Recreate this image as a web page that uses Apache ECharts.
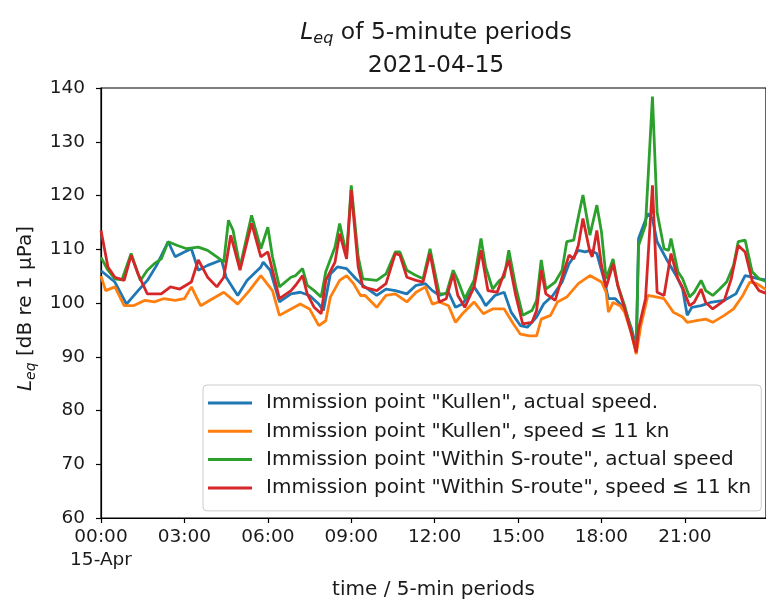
<!DOCTYPE html>
<html>
<head>
<meta charset="utf-8">
<script src="https://cdn.jsdelivr.net/npm/echarts@6/dist/echarts.min.js"></script>
<style>
html,body{margin:0;padding:0;background:#fff;}
#chart{width:766px;height:605px;}
</style>
</head>
<body>
<div id="chart"></div>
<script>
// time in minutes after 00:00 on 2021-04-15, value in dB re 1 µPa
const seriesNames = [
  'Immission point "Kullen", actual speed.',
  'Immission point "Kullen", speed \u2264 11 kn',
  'Immission point "Within S-route", actual speed',
  'Immission point "Within S-route", speed \u2264 11 kn'
];
const kullenActual = [[0,106.0],[30,103.9],[55,99.8],[80,102.3],[100,104.2],[120,107.0],[145,111.4],[160,108.6],[180,109.5],[195,110.1],[210,106.1],[230,107.0],[260,108.0],[270,104.8],[295,101.4],[315,104.2],[345,106.7],[350,107.6],[365,106.1],[385,100.2],[410,101.7],[430,102.0],[450,101.4],[470,99.8],[480,98.6],[495,105.4],[510,106.7],[530,106.4],[550,104.5],[565,103.3],[595,101.4],[615,102.6],[635,102.3],[660,101.7],[680,103.3],[700,103.6],[715,102.3],[730,101.4],[750,102.0],[765,99.2],[780,99.8],[805,103.0],[820,101.1],[830,99.5],[850,101.4],[870,102.0],[885,98.3],[905,95.8],[920,95.5],[940,97.4],[955,99.8],[975,101.4],[995,103.9],[1010,107.3],[1030,109.8],[1045,109.5],[1055,109.8],[1070,109.2],[1085,104.5],[1095,100.8],[1110,100.8],[1130,98.9],[1145,95.2],[1155,91.7],[1160,112.0],[1180,116.6],[1190,115.7],[1200,111.4],[1220,108.2],[1245,104.5],[1255,102.6],[1265,97.7],[1275,99.2],[1295,99.5],[1315,100.1],[1345,100.5],[1370,101.7],[1390,105.1],[1405,104.8],[1420,104.5],[1435,104.3]];
const kullenSlow = [[0,105.0],[10,102.3],[30,103.0],[50,99.5],[70,99.5],[95,100.5],[115,100.2],[135,100.8],[160,100.5],[180,100.8],[195,103.0],[215,99.5],[235,100.5],[265,102.0],[295,99.8],[320,102.3],[345,105.1],[370,102.3],[385,97.7],[410,98.9],[430,99.8],[450,98.9],[470,95.8],[485,96.7],[495,101.1],[515,104.2],[530,105.1],[545,103.6],[560,101.4],[570,101.4],[595,99.2],[615,101.4],[635,101.7],[660,100.2],[680,102.0],[700,103.0],[715,99.8],[730,100.2],[750,99.5],[765,96.4],[780,98.0],[805,100.2],[825,98.0],[845,98.9],[870,98.9],[890,96.1],[905,94.2],[925,93.9],[940,93.9],[950,97.0],[970,97.7],[985,100.2],[1005,101.1],[1030,103.6],[1055,105.1],[1080,103.9],[1090,102.0],[1095,98.3],[1105,100.1],[1120,99.5],[1130,98.3],[1145,94.2],[1155,90.5],[1165,95.8],[1180,101.4],[1200,101.1],[1215,100.8],[1235,98.3],[1255,97.4],[1265,96.4],[1285,96.7],[1305,97.0],[1320,96.4],[1345,97.7],[1365,98.9],[1385,101.4],[1400,103.9],[1415,103.6],[1435,102.5]];
const sRouteActual = [[0,108.5],[15,106.1],[30,104.5],[45,104.3],[65,109.2],[85,104.2],[100,106.1],[115,107.3],[130,108.2],[145,111.4],[165,110.7],[185,110.1],[210,110.4],[230,109.8],[250,108.6],[265,107.6],[275,115.4],[285,113.5],[300,106.7],[325,116.3],[345,110.1],[360,114.1],[370,108.6],[385,103.0],[410,104.8],[420,105.1],[435,106.4],[445,103.3],[460,102.3],[475,101.1],[485,105.8],[505,110.4],[515,114.8],[530,108.9],[540,121.9],[555,108.6],[565,104.5],[595,104.2],[615,105.4],[635,109.5],[645,109.5],[660,106.1],[680,105.1],[695,104.5],[710,110.1],[730,101.7],[745,101.7],[760,106.1],[770,104.2],[785,100.8],[805,104.2],[820,112.0],[830,106.7],[845,102.6],[860,104.2],[870,104.8],[880,109.8],[895,103.0],[910,97.7],[930,98.6],[940,100.5],[950,108.0],[960,102.6],[980,103.9],[995,106.1],[1005,111.4],[1020,111.7],[1030,116.0],[1040,120.1],[1055,112.6],[1070,118.2],[1080,113.2],[1090,104.5],[1105,108.2],[1115,103.3],[1130,99.5],[1145,94.6],[1155,91.5],[1160,110.7],[1175,114.5],[1190,138.4],[1200,116.9],[1215,110.1],[1225,109.8],[1230,112.0],[1245,105.8],[1255,104.5],[1270,101.1],[1280,102.0],[1295,104.2],[1305,102.3],[1320,101.4],[1335,102.6],[1350,103.9],[1365,107.0],[1375,111.4],[1390,111.7],[1405,105.8],[1420,104.5],[1435,104.0]];
const sRouteSlow = [[0,113.5],[15,106.7],[30,104.8],[50,104.2],[65,108.9],[80,105.4],[100,101.7],[130,101.7],[150,103.0],[170,102.6],[195,103.9],[210,108.0],[230,104.8],[250,103.0],[265,104.8],[280,112.6],[300,106.1],[325,114.8],[345,108.6],[360,109.5],[370,106.1],[385,100.8],[410,102.3],[420,103.3],[435,105.1],[445,101.7],[460,99.2],[475,98.0],[485,104.2],[505,107.6],[515,112.9],[530,108.2],[540,121.0],[555,106.7],[565,103.0],[595,102.3],[615,103.6],[635,109.2],[645,108.9],[660,104.8],[680,104.2],[695,103.9],[710,109.2],[730,100.2],[745,100.8],[760,105.4],[770,101.4],[785,99.2],[805,103.0],[820,109.8],[835,102.3],[855,102.0],[880,108.0],[895,101.4],[910,96.1],[930,96.4],[940,98.6],[950,106.1],[960,101.7],[980,100.5],[995,104.8],[1010,108.9],[1020,108.2],[1030,110.7],[1040,115.7],[1055,109.5],[1060,108.6],[1070,113.5],[1080,107.0],[1090,102.9],[1105,107.3],[1115,103.3],[1130,98.9],[1145,94.2],[1155,90.8],[1160,95.2],[1175,100.8],[1190,121.9],[1200,102.0],[1215,101.4],[1230,109.2],[1245,104.5],[1255,102.9],[1270,99.5],[1280,100.1],[1295,102.6],[1305,100.1],[1320,98.9],[1345,100.5],[1360,104.5],[1375,110.7],[1390,109.5],[1405,104.2],[1420,102.3],[1435,101.8]];
const yTicks = [60, 140, 10];           // min, max, step
const xTicks = [0, 1435, 180];          // minutes
const colors = ['#1f77b4', '#ff7f0e', '#2ca02c', '#d62728'];
const titleLine1 = ' of 5-minute periods';
const titleLine2 = '2021-04-15';
const xName = 'time / 5-min periods';
const yNameRest = ' [dB re 1 \u03bcPa]';
const dateLabel = '15-Apr';

const FONT = 'DejaVu Sans';
const TXT = '#1a1a1a';
const chart = echarts.init(document.getElementById('chart'), null, {renderer: 'canvas'});

function hhmm(v) {
  const h = Math.floor(v / 60), m = v % 60;
  return (h < 10 ? '0' : '') + h + ':' + (m < 10 ? '0' : '') + m;
}

const allData = [kullenActual, kullenSlow, sRouteActual, sRouteSlow];

chart.setOption({
  animation: false,
  backgroundColor: '#fff',
  textStyle: {fontFamily: FONT},
  graphic: [
    {type: 'text', x: 436, y: 33, style: {
      text: '{i|L}{s|eq}{n|' + titleLine1 + '}', textAlign: 'center', textVerticalAlign: 'middle',
      rich: {
        i: {fontFamily: FONT, fontSize: 23.5, fontStyle: 'italic', fill: TXT},
        s: {fontFamily: FONT, fontSize: 16, fontStyle: 'italic', fill: TXT, padding: [12, 0, 0, 0]},
        n: {fontFamily: FONT, fontSize: 23.5, fill: TXT}
      }}},
    {type: 'text', x: 436, y: 66, style: {
      text: titleLine2, textAlign: 'center', textVerticalAlign: 'middle',
      fontFamily: FONT, fontSize: 23.5, fill: TXT}}
  ],
  grid: {left: 101, top: 88, width: 670, height: 431, show: true, borderColor: '#000', borderWidth: 1.2, backgroundColor: 'transparent'},
  legend: {
    orient: 'vertical', left: 203, top: 385,
    padding: [8, 10, 13, 5],
    icon: 'rect',
    itemWidth: 44, itemHeight: 3, itemGap: 8.3,
    backgroundColor: 'rgba(255,255,255,0.85)', borderColor: '#cccccc', borderWidth: 1, borderRadius: 4,
    textStyle: {fontFamily: FONT, fontSize: 20, color: TXT, lineHeight: 20, padding: [0, 0, 0, 9]},
    data: seriesNames
  },
  xAxis: {
    type: 'value', min: xTicks[0], max: xTicks[1], interval: xTicks[2],
    axisLine: {onZero: false, lineStyle: {color: '#000', width: 1.2}},
    axisTick: {show: true, inside: false, length: 5, lineStyle: {color: '#000', width: 1.2}},
    splitLine: {show: false},
    axisLabel: {
      fontFamily: FONT, fontSize: 18.5, color: TXT, margin: 8, lineHeight: 23, align: 'center', showMaxLabel: false,
      formatter: function (v) {
        if (v % 180 !== 0) return '';
        return v === 0 ? hhmm(v) + '\n' + dateLabel : hhmm(v);
      }
    },
    name: xName, nameLocation: 'middle', nameGap: 62,
    nameTextStyle: {fontFamily: FONT, fontSize: 20, color: TXT}
  },
  yAxis: {
    type: 'value', min: yTicks[0], max: yTicks[1], interval: yTicks[2],
    axisLine: {show: true, lineStyle: {color: '#000', width: 1.2}},
    axisTick: {show: true, inside: false, length: 5, lineStyle: {color: '#000', width: 1.2}},
    splitLine: {show: false},
    axisLabel: {fontFamily: FONT, fontSize: 18.5, color: TXT, margin: 16},
    name: '{i|L}{s|eq}{n|' + yNameRest + '}', nameLocation: 'middle', nameGap: 63, nameRotate: 90,
    nameTextStyle: {
      padding: [0, 11, 0, 0],
      rich: {
        i: {fontFamily: FONT, fontSize: 20, fontStyle: 'italic', color: TXT},
        s: {fontFamily: FONT, fontSize: 14, fontStyle: 'italic', color: TXT, padding: [10, 0, 0, 0]},
        n: {fontFamily: FONT, fontSize: 20, color: TXT}
      }
    }
  },
  series: allData.map(function (d, k) {
    return {
      name: seriesNames[k], type: 'line', data: d, showSymbol: false, symbol: 'none',
      lineStyle: {color: colors[k], width: 2.8}, itemStyle: {color: colors[k]},
      z: 2 + k
    };
  })
});
</script>
</body>
</html>
